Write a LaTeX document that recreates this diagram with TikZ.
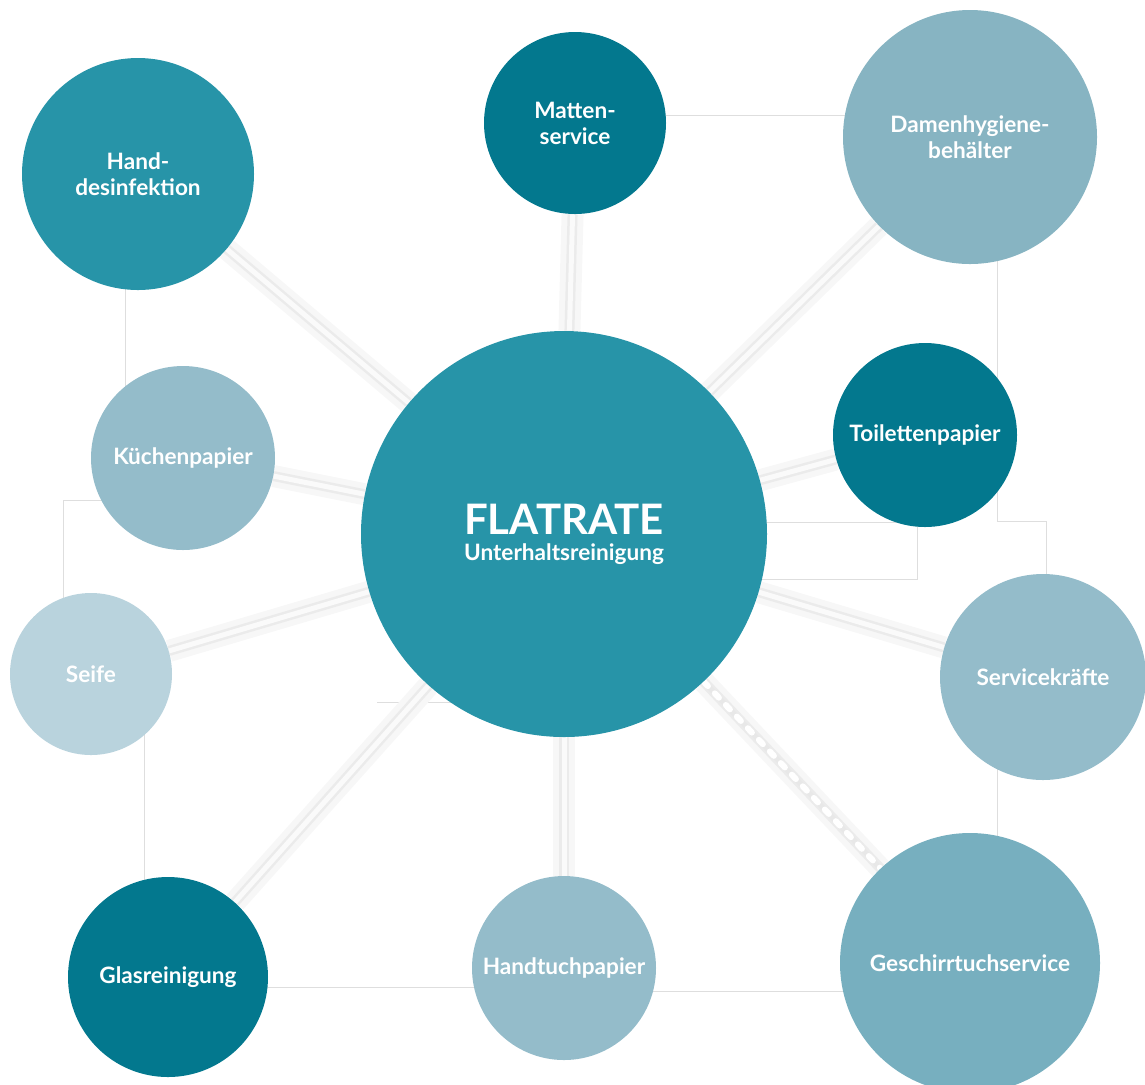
\documentclass[tikz,border=0pt]{standalone}
\usepackage{fontspec}
\setmainfont{Lato}
\usetikzlibrary{backgrounds}
\definecolor{tealdark}{HTML}{03788E}
\definecolor{tealmid}{HTML}{2794A8}
\definecolor{tealpale}{HTML}{94BCCA}
\definecolor{tealgrey}{HTML}{87B4C2}
\definecolor{tealsoft}{HTML}{B9D3DD}
\definecolor{tealdeep}{HTML}{77AFBF}
\begin{document}
\begin{tikzpicture}[x=0.5pt, y=-0.5pt,
    bubble/.style={circle, fill=#1, text=white, align=center, inner sep=0pt,
        font=\bfseries\fontsize{11.3}{13}\selectfont},
    spoke/.style={draw=black!2, line width=2.5pt,
        preaction={draw=black!3, line width=11pt},
        preaction={draw=black!8, line width=5pt}},
    frame/.style={draw=black!13, line width=0.4pt}]
    \useasboundingbox (0, 0) rectangle (1145, 1084);
    % hub and satellites
    \node[bubble=tealmid, minimum size=203pt] (hub) at (564, 534)
        {\fontsize{21}{21}\selectfont FLATRATE\\\fontsize{11.3}{17}\selectfont Unterhaltsreinigung};
    \node[bubble=tealmid, minimum size=116pt] (hand) at (138, 174) {Hand-\\desinfektion};
    \node[bubble=tealdark, minimum size=91pt] (matten) at (575, 123) {Matten-\\service};
    \node[bubble=tealgrey, minimum size=127pt] (damen) at (970, 137) {Damenhygiene-\\behälter};
    \node[bubble=tealdark, minimum size=92pt] (toilet) at (925, 435) {Toilettenpapier};
    \node[bubble=tealpale, minimum size=92pt] (kuech) at (183, 458) {Küchenpapier};
    \node[bubble=tealsoft, minimum size=81pt] (seife) at (91, 674) {Seife};
    \node[bubble=tealpale, minimum size=103pt] (service) at (1043, 677) {Servicekräfte};
    \node[bubble=tealdark, minimum size=100pt] (glas) at (168, 977) {Glasreinigung};
    \node[bubble=tealpale, minimum size=92pt] (handtuch) at (564, 968) {Handtuchpapier};
    \node[bubble=tealdeep, minimum size=130pt] (geschirr) at (970, 963) {Geschirrtuchservice};
    \coordinate (bendR) at (1046, 521);
    \coordinate (boxNE) at (917, 522);
    \coordinate (boxSE) at (917, 579);
    \coordinate (stubW) at (377, 702);
    \begin{scope}[on background layer]
        % thin frame lines
        \draw[frame] ([yshift=4pt]matten.center) -- ([yshift=11pt]damen.center);
        \draw[frame] ([xshift=13.5pt]damen.center) |- (bendR) -- ([xshift=1.5pt]service.center);
        \draw[frame] (hub.center |- boxNE) -- (boxNE) -- (boxSE) -- (hub.center |- boxSE);
        \draw[frame] ([xshift=-6.5pt]hand.center) -- ([xshift=-6.5pt]hand.center |- kuech.center);
        \draw[frame] ([yshift=-21pt]kuech.center) -| ([xshift=-14pt]seife.center);
        \draw[frame] ([xshift=26.5pt]seife.center) -- ([xshift=26.5pt]seife.center |- glas.center);
        \draw[frame] ([yshift=-5pt]glas.center) -- ([yshift=-5pt]glas.center -| handtuch.center);
        \draw[frame] ([yshift=-11.5pt]handtuch.center) -- ([yshift=-11.5pt]handtuch.center -| geschirr.center);
        \draw[frame] ([xshift=-23pt]service.center) -- ([xshift=-23pt]service.center |- geschirr.center);
        \draw[frame] (stubW) -- (stubW -| hub.center);
        % spokes
        \foreach \n in {hand, matten, damen, toilet, kuech, seife, glas, handtuch, service}
            \draw[spoke] (hub) -- (\n);
        \draw[spoke, draw=black!9, postaction={draw=white, line width=3pt, line cap=round,
            dash pattern=on 3pt off 5pt}] (hub) -- (geschirr);
    \end{scope}
\end{tikzpicture}
\end{document}
